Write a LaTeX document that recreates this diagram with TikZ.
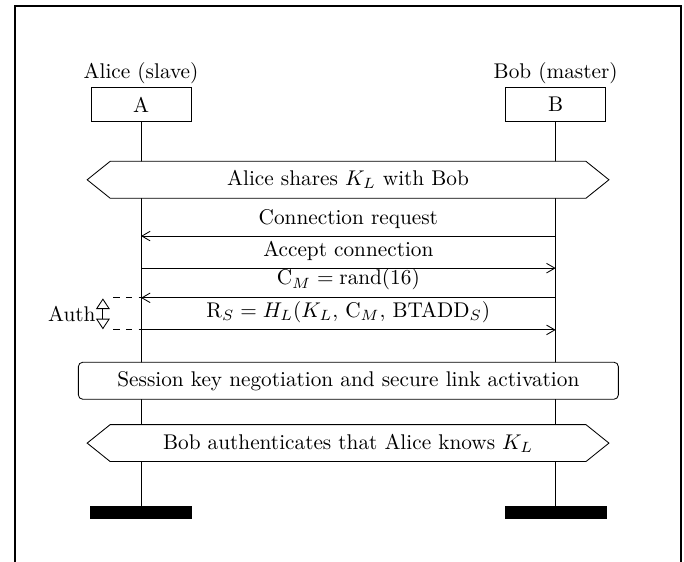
\documentclass[tikz,border=0pt]{standalone}
\usetikzlibrary{calc,positioning,arrows.meta}

\tikzset{
    party/.style={draw, minimum width=1.65cm, minimum height=0.56cm},
    lifeend/.style={fill=black, inner sep=0pt, minimum width=1.69cm, minimum height=0.21cm},
    hexa/.style={draw, fill=white},
    authtip/.tip={Triangle[open, width=6.5pt, length=5pt]},
}

\begin{document}
\begin{tikzpicture}[>={Straight Barb[angle=60:4.5pt]}]
        \useasboundingbox (0,0) rectangle (11.30,-9.27);
        \draw[thick] (0.25,-9.5) -- (0.25,-0.10) -- (11.25,-0.10) -- (11.25,-9.5);

        \node (alice) [party] at (2.33,-1.73) {A};
        \node (bob) [party] at (9.18,-1.73) {B};
        \node (alicename) [above=-0.06cm of alice] {Alice (slave)};
        \node (bobname) [above=-0.06cm of bob] {Bob (master)};

        \node (aliceend) [lifeend] at (2.33,-8.47) {};
        \node (bobend) [lifeend] at (9.18,-8.47) {};
        \draw (alice) -- (aliceend);
        \draw (bob) -- (bobend);

        % first hexagon
        \coordinate (s1) at (1.44,-2.97);
        \coordinate (s2) at (10.06,-2.97);
        \draw[hexa] (s1) -- ($(s1)+(0.38,0.305)$) -- ($(s2)+(-0.38,0.305)$) -- (s2)
            -- ($(s2)+(-0.38,-0.305)$) -- ($(s1)+(0.38,-0.305)$) -- cycle;
        \node (share) at ($(s1)!0.5!(s2)$) {Alice shares $K_L$ with Bob};

        % messages
        \coordinate (a1) at (2.33,-3.90);
        \coordinate (b1) at (9.18,-3.90);
        \coordinate (a2) at (2.33,-4.43);
        \coordinate (b2) at (9.18,-4.43);
        \coordinate (a3) at (2.33,-4.92);
        \coordinate (b3) at (9.18,-4.92);
        \coordinate (a4) at (2.33,-5.45);
        \coordinate (b4) at (9.18,-5.45);

        \draw[->] (b1) -- node (m1) [above] {Connection request} (a1);
        \draw[->] (a2) -- node (m2) [above] {Accept connection} (b2);
        \draw[->] (b3) -- node (m3) [above] {$\mathrm{C}_M = \mathrm{rand}(16)$} (a3);
        \draw[->] (a4) -- node (m4) [above] {$\mathrm{R}_S = H_L(K_L,\, \mathrm{C}_M,\, \mathrm{BTADD}_S)$} (b4);

        % auth bracket
        \coordinate (d1) at (1.87,-4.92);
        \coordinate (d2) at (1.87,-5.45);
        \draw[dashed] (d1) -- (a3);
        \draw[dashed] (d2) -- (a4);
        \coordinate (auth1) at (1.70,-4.93);
        \coordinate (auth2) at (1.70,-5.44);
        \draw[authtip-authtip] (auth1) -- (auth2);
        \node (auth) [anchor=east, inner sep=1pt] at ($(auth1)!0.5!(auth2)+(-0.08,0)$) {Auth};

        \node (session) [draw, fill=white, rounded corners=2pt, minimum width=8.92cm, minimum height=0.61cm]
            at (5.755,-6.29) {Session key negotiation and secure link activation};

        % second hexagon
        \coordinate (t1) at (1.44,-7.32);
        \coordinate (t2) at (10.06,-7.32);
        \draw[hexa] (t1) -- ($(t1)+(0.38,0.305)$) -- ($(t2)+(-0.38,0.305)$) -- (t2)
            -- ($(t2)+(-0.38,-0.305)$) -- ($(t1)+(0.38,-0.305)$) -- cycle;
        \node (verify) at ($(t1)!0.5!(t2)$) {Bob authenticates that Alice knows $K_L$};
\end{tikzpicture}
\end{document}
